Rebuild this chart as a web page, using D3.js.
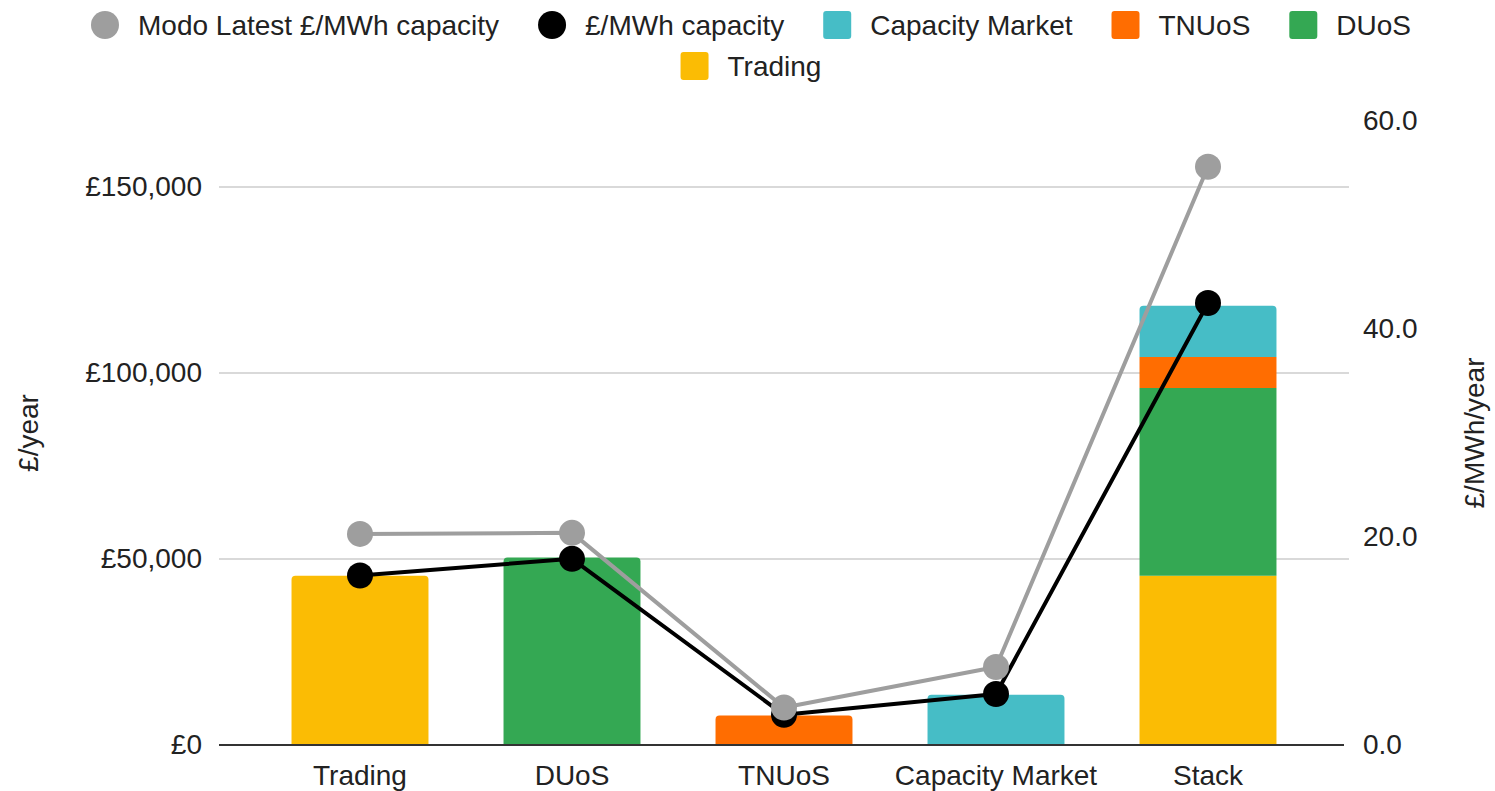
<!DOCTYPE html>
<html>
<head>
<meta charset="utf-8">
<script src="https://cdn.jsdelivr.net/npm/d3@7"></script>
<style>
  body { margin: 0; background: #fff; }
  text { font-family: "Liberation Sans", Arial, sans-serif; fill: #222; }
</style>
</head>
<body>
<svg id="chart" width="1495" height="791"></svg>
<script>
// Chart values
const categories = ['Trading', 'DUoS', 'TNUoS', 'Capacity Market', 'Stack'];

// £/year per series, one value per category (stacked in "Stack")
const tradingValues  = [45500, 0, 0, 0, 45500];
const duosValues     = [0, 50400, 0, 0, 50500];
const tnuosValues    = [0, 0, 7900, 0, 8300];
const capacityValues = [0, 0, 0, 13500, 13800];

// £/MWh/year, right axis
const modoLatestValues = [20.3, 20.4, 3.6, 7.5, 55.6];
const perMwhValues     = [16.3, 17.9, 2.9, 4.9, 42.5];

const leftTicks  = [0, 50000, 100000, 150000];
const rightTicks = [0, 20, 40, 60];

const barSeries = [
  { name: 'Trading',         values: tradingValues,  color: '#fbbc04' },
  { name: 'DUoS',            values: duosValues,     color: '#34a853' },
  { name: 'TNUoS',           values: tnuosValues,    color: '#ff6d01' },
  { name: 'Capacity Market', values: capacityValues, color: '#46bdc6' }
];
const lineSeries = [
  { name: 'Modo Latest £/MWh capacity', values: modoLatestValues, color: '#9e9e9e' },
  { name: '£/MWh capacity',             values: perMwhValues,     color: '#000000' }
];

const svg = d3.select('#chart');

// plot frame
const plotLeft = 219, plotRight = 1349, plotTop = 121, plotBottom = 745;

const x = d3.scaleBand()
    .domain(categories)
    .range([plotLeft + 35, plotRight - 35])
    .paddingInner(0.354)
    .paddingOuter(0.177);

const yLeft = d3.scaleLinear()
    .domain([0, 167740])
    .range([plotBottom, plotTop]);

const yRight = d3.scaleLinear()
    .domain([0, 60])
    .range([plotBottom, plotTop]);

// gridlines (left axis only)
svg.append('g')
    .attr('class', 'grid')
    .selectAll('line')
    .data(leftTicks.filter(t => t > 0))
    .enter()
    .append('line')
    .attr('x1', plotLeft)
    .attr('x2', plotRight)
    .attr('y1', d => yLeft(d))
    .attr('y2', d => yLeft(d))
    .attr('stroke', '#cccccc')
    .attr('stroke-width', 1.5);

// stacked bars
const rows = categories.map((c, i) => {
  const row = { category: c };
  barSeries.forEach(s => { row[s.name] = s.values[i]; });
  return row;
});
const stacked = d3.stack().keys(barSeries.map(s => s.name))(rows);

// rectangle with rounded top corners only
const topRounded = (x0, y0, w, h, r) => {
  r = Math.min(r, h, w / 2);
  return `M${x0},${y0 + h}V${y0 + r}Q${x0},${y0} ${x0 + r},${y0}` +
         `H${x0 + w - r}Q${x0 + w},${y0} ${x0 + w},${y0 + r}V${y0 + h}Z`;
};

const isTopSegment = (layerIndex, d) => {
  for (let k = layerIndex + 1; k < stacked.length; k++) {
    const seg = stacked[k][d.index];
    if (seg[1] - seg[0] > 0) return false;
  }
  return true;
};

stacked.forEach((layer, li) => {
  layer.forEach((d, i) => { d.index = i; });
  svg.append('g')
      .attr('class', 'bars')
      .selectAll('path')
      .data(layer.filter(d => d[1] - d[0] > 0))
      .enter()
      .append('path')
      .attr('fill', barSeries[li].color)
      .attr('d', d => {
        const x0 = x(d.data.category);
        const y0 = yLeft(d[1]);
        const h = yLeft(d[0]) - yLeft(d[1]);
        return topRounded(x0, y0, x.bandwidth(), h, isTopSegment(li, d) ? 4 : 0);
      });
});

// baseline
svg.append('line')
    .attr('x1', plotLeft)
    .attr('x2', plotRight - 5)
    .attr('y1', plotBottom)
    .attr('y2', plotBottom)
    .attr('stroke', '#333333')
    .attr('stroke-width', 2);

// lines and points on right axis
const lineGen = d3.line()
    .x((d, i) => x(categories[i]) + x.bandwidth() / 2)
    .y(d => yRight(d));

lineSeries.forEach(s => {
  svg.append('path')
      .datum(s.values)
      .attr('fill', 'none')
      .attr('stroke', s.color)
      .attr('stroke-width', 4)
      .attr('stroke-linejoin', 'round')
      .attr('d', lineGen);
});

// black points below grey points
[lineSeries[1], lineSeries[0]].forEach(s => {
  svg.append('g')
      .selectAll('circle')
      .data(s.values)
      .enter()
      .append('circle')
      .attr('cx', (d, i) => x(categories[i]) + x.bandwidth() / 2)
      .attr('cy', d => yRight(d))
      .attr('r', 13)
      .attr('fill', s.color);
});

// axes
const fmtPound = v => '£' + d3.format(',')(v);

const leftAxis = svg.append('g')
    .attr('transform', `translate(${plotLeft - 17},0)`)
    .call(d3.axisLeft(yLeft).tickValues(leftTicks).tickFormat(fmtPound).tickSize(0).tickPadding(0));
leftAxis.select('.domain').remove();
leftAxis.selectAll('text')
    .attr('font-size', 28)
    .attr('font-family', '"Liberation Sans", Arial, sans-serif')
    .attr('fill', '#222');

const rightAxis = svg.append('g')
    .attr('transform', `translate(${plotRight + 14},0)`)
    .call(d3.axisRight(yRight).tickValues(rightTicks).tickFormat(d3.format('.1f')).tickSize(0).tickPadding(0));
rightAxis.select('.domain').remove();
rightAxis.selectAll('text')
    .attr('font-size', 28)
    .attr('font-family', '"Liberation Sans", Arial, sans-serif')
    .attr('fill', '#222');

const bottomAxis = svg.append('g')
    .attr('transform', `translate(0,${plotBottom})`)
    .call(d3.axisBottom(x).tickSize(0).tickPadding(20));
bottomAxis.select('.domain').remove();
bottomAxis.selectAll('text')
    .attr('font-size', 28)
    .attr('font-family', '"Liberation Sans", Arial, sans-serif')
    .attr('fill', '#222');

// axis titles
svg.append('text')
    .attr('transform', `translate(28,${(plotTop + plotBottom) / 2}) rotate(-90)`)
    .attr('text-anchor', 'middle')
    .attr('dy', '0.35em')
    .attr('font-size', 28)
    .text('£/year');

svg.append('text')
    .attr('transform', `translate(1474,${(plotTop + plotBottom) / 2}) rotate(-90)`)
    .attr('text-anchor', 'middle')
    .attr('dy', '0.35em')
    .attr('font-size', 28)
    .text('£/MWh/year');

// legend, two centred rows
const legendItems = [
  [
    { label: lineSeries[0].name, color: lineSeries[0].color, shape: 'circle' },
    { label: lineSeries[1].name, color: lineSeries[1].color, shape: 'circle' },
    { label: 'Capacity Market', color: barSeries[3].color, shape: 'square' },
    { label: 'TNUoS', color: barSeries[2].color, shape: 'square' },
    { label: 'DUoS', color: barSeries[1].color, shape: 'square' }
  ],
  [
    { label: 'Trading', color: barSeries[0].color, shape: 'square' }
  ]
];
const legendRowY = [25, 66];
const legendCenter = 751;
const symbolSize = 28, symbolGap = 19, itemGap = 39;

legendItems.forEach((items, r) => {
  const row = svg.append('g').attr('class', 'legend');
  const groups = items.map(it => {
    const g = row.append('g');
    if (it.shape === 'circle') {
      g.append('circle')
          .attr('cx', symbolSize / 2)
          .attr('cy', 0)
          .attr('r', symbolSize / 2)
          .attr('fill', it.color);
    } else {
      g.append('rect')
          .attr('x', 0)
          .attr('y', -symbolSize / 2)
          .attr('width', symbolSize)
          .attr('height', symbolSize)
          .attr('rx', 3)
          .attr('fill', it.color);
    }
    const t = g.append('text')
        .attr('x', symbolSize + symbolGap)
        .attr('dy', '0.35em')
        .attr('font-size', 28)
        .text(it.label);
    return { g, w: symbolSize + symbolGap + t.node().getComputedTextLength() };
  });
  const total = d3.sum(groups, d => d.w) + itemGap * (groups.length - 1);
  let cx = legendCenter - total / 2;
  groups.forEach(d => {
    d.g.attr('transform', `translate(${cx},${legendRowY[r]})`);
    cx += d.w + itemGap;
  });
});
</script>
</body>
</html>
